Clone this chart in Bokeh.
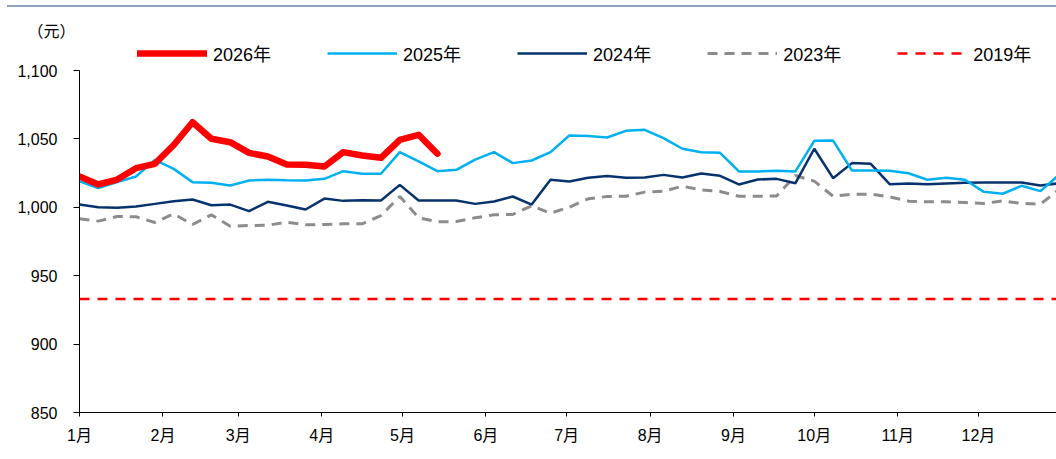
from bokeh.plotting import figure
from bokeh.models import (Legend, LegendItem, FixedTicker, NumeralTickFormatter,
                          Range1d, Div)
from bokeh.layouts import column
from bokeh.embed import file_html
from bokeh.resources import INLINE

# ---------------- data ----------------
month_days = [0, 31, 59, 90, 120, 151, 181, 212, 243, 273, 304, 334]
month_labels = ["1月", "2月", "3月", "4月", "5月", "6月",
                "7月", "8月", "9月", "10月", "11月", "12月"]
y_ticks = [850, 900, 950, 1000, 1050, 1100]

s2026 = [1022.5, 1016.7, 1020.3, 1028.6, 1031.8, 1045.5, 1062.2, 1050.1, 1047.6,
         1039.8, 1037.1, 1031.3, 1031.1, 1029.8, 1040.3, 1037.9, 1036.2, 1049.3,
         1053.0, 1039.1]
s2025 = [1018.9, 1014.0, 1018.4, 1022.5, 1034.7, 1028.1, 1018.4, 1017.9, 1015.9,
         1019.6, 1020.1, 1019.8, 1019.6, 1020.8, 1026.4, 1024.5, 1024.5, 1040.3,
         1033.5, 1026.4, 1027.4, 1034.9, 1040.3, 1032.3, 1034.2, 1040.3, 1052.5,
         1052.2, 1051.0, 1055.9, 1056.6, 1050.5, 1042.8, 1040.3, 1039.8, 1026.2,
         1026.2, 1026.7, 1026.2, 1048.6, 1048.8, 1026.9, 1026.9, 1026.7, 1024.9,
         1020.1, 1021.6, 1020.1, 1011.3, 1009.9, 1015.7, 1011.8, 1023.8]
s2024 = [1002.0, 1000.1, 999.6, 1000.6, 1002.5, 1004.5, 1005.7, 1001.5, 1002.0,
         997.2, 1004.0, 1001.3, 998.4, 1006.4, 1004.7, 1005.2, 1005.0, 1016.4,
         1005.0, 1005.0, 1005.0, 1002.5, 1004.2, 1007.9, 1002.0, 1020.1, 1018.9,
         1021.6, 1022.8, 1021.6, 1021.8, 1023.7, 1021.8, 1024.7, 1023.0, 1016.7,
         1020.3, 1020.8, 1017.6, 1042.8, 1021.3, 1032.3, 1031.8, 1016.9, 1017.4,
         1016.9, 1017.4, 1017.9, 1018.1, 1018.1, 1018.1, 1015.9, 1017.6]
s2023 = [991.6, 989.9, 993.3, 993.1, 988.9, 995.2, 987.4, 994.5, 986.2, 986.7,
         986.9, 989.1, 987.2, 987.4, 987.9, 987.9, 994.0, 1007.9, 992.3, 989.4,
         989.6, 992.3, 994.5, 994.8, 1001.1, 995.7, 1000.1, 1006.2, 1007.9, 1008.1,
         1011.1, 1011.8, 1015.4, 1012.8, 1011.6, 1008.1, 1008.1, 1008.3, 1023.2,
         1019.1, 1008.1, 1009.6, 1009.6, 1007.7, 1004.5, 1004.0, 1004.0, 1003.5,
         1002.8, 1004.7, 1002.8, 1002.3, 1013.0]
avg2019 = 933

# weekly observations: day-of-year of each week
week_days = [7 * i for i in range(len(s2025))]

FONT = "Liberation Sans, Noto Sans CJK SC"

# top rule of the report page
rule = Div(text="", width=1049, height=2, margin=(5, 0, 1, 7),
           styles={"background-color": "#8EA2BE"})

# frame: top 34px, bottom at 404px (1100 -> 62px, 850 -> 404px)
y_top = 1100 + (62 - 34) * 250 / 342

p = figure(width=1056, height=451, output_backend="svg", toolbar_location=None,
           x_range=Range1d(0, 363), y_range=Range1d(850, y_top),
           min_border_left=79, min_border_right=0, min_border_top=34,
           min_border_bottom=47)
p.outline_line_color = None
p.xgrid.grid_line_color = None
p.ygrid.grid_line_color = None
p.background_fill_color = "white"
p.border_fill_color = "white"

# unit label as title
p.title.text = "（元）"
p.title.align = "left"
p.title.offset = -52
p.title.standoff = 2
p.title.text_font = "Noto Sans CJK SC"
p.title.text_font_size = "16px"
p.title.text_font_style = "normal"
p.title.text_color = "black"

r2019 = p.line(week_days, [avg2019] * len(week_days), line_color="#FF0000",
               line_width=2.5, line_dash="10 8")
r2023 = p.line(week_days, s2023, line_color="#8C8C8C", line_width=3, line_dash="10 7")
r2024 = p.line(week_days, s2024, line_color="#06326E", line_width=2.5)
r2025 = p.line(week_days, s2025, line_color="#00B0F0", line_width=2.5)
r2026 = p.line(week_days[:len(s2026)], s2026, line_color="#FF0000", line_width=6.5,
               line_join="round", line_cap="round")

# axes
for ax in (p.xaxis, p.yaxis):
    ax.axis_line_color = "black"
    ax.axis_line_width = 1
    ax.major_tick_line_color = "black"
    ax.minor_tick_line_color = None
    ax.major_tick_in = 0
    ax.major_label_text_font = FONT
    ax.major_label_text_font_size = "16px"
    ax.major_label_text_color = "black"

p.xaxis.ticker = FixedTicker(ticks=month_days)
p.xaxis.major_label_overrides = {d: l for d, l in zip(month_days, month_labels)}
p.xaxis.major_tick_out = 4
p.xaxis.major_label_standoff = 10

p.yaxis.ticker = FixedTicker(ticks=y_ticks)
p.yaxis.bounds = (850, 1100)
p.yaxis.formatter = NumeralTickFormatter(format="0,0")
p.yaxis.major_tick_out = 6
p.yaxis.major_label_standoff = 16

legend = Legend(items=[
    LegendItem(label="2026年", renderers=[r2026]),
    LegendItem(label="2025年", renderers=[r2025]),
    LegendItem(label="2024年", renderers=[r2024]),
    LegendItem(label="2023年", renderers=[r2023]),
    LegendItem(label="2019年", renderers=[r2019]),
], orientation="horizontal", location=(58, 346))
legend.glyph_width = 70
legend.glyph_height = 20
legend.label_height = 20
legend.label_standoff = 6
legend.spacing = 56
legend.padding = 0
legend.margin = 0
legend.border_line_color = None
legend.background_fill_alpha = 0
legend.label_text_font = FONT
legend.label_text_font_size = "18px"
legend.label_text_color = "black"
legend.label_text_baseline = "middle"
p.add_layout(legend, "center")

layout = column(rule, p, spacing=0)
open("out.html", "w").write(file_html(layout, INLINE))
